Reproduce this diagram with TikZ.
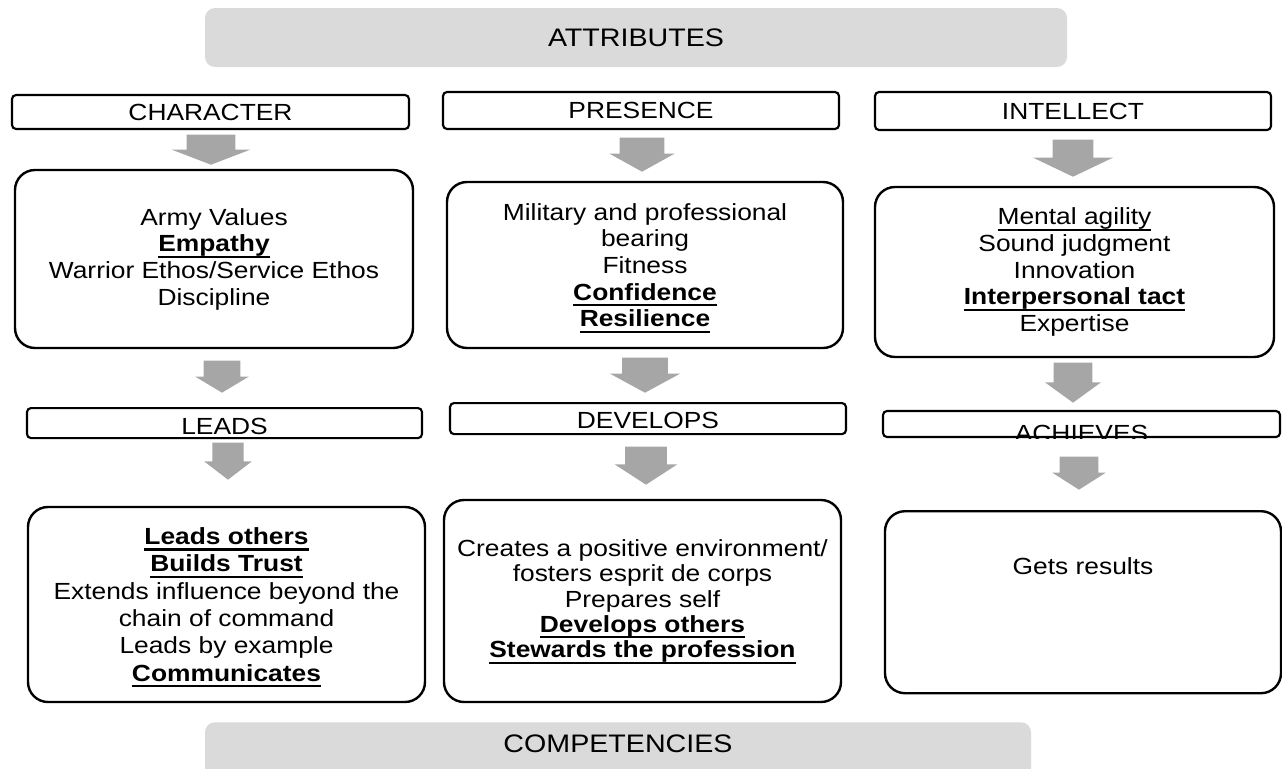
\documentclass[tikz,border=0pt]{standalone}
\usepackage{fontspec}
\setmainfont{Liberation Sans}[FakeStretch=1.13]
\usetikzlibrary{shapes.arrows}
\definecolor{titlegray}{RGB}{218,218,218}
\definecolor{arrowgray}{RGB}{166,166,166}
% underline sitting at a fixed depth
\newcommand{\undl}[2][1.6pt]{\setbox0=\hbox{#2}\leavevmode\rlap{\smash{\rule[-4.5pt]{\wd0}{#1}}}\box0}
\tikzset{
  titlebox/.style={fill=titlegray, rounded corners=7.5pt, inner sep=0pt, font=\fontsize{19}{22}\selectfont},
  headbox/.style={draw, line width=1.6pt, rounded corners=3pt, inner sep=0pt, font=\fontsize{17.5}{20}\selectfont},
  valbox/.style={draw, line width=1.8pt, rounded corners=15pt, inner sep=0pt, align=center, font=\fontsize{17.5}{20}\selectfont},
  blockarrow/.style={single arrow, fill=arrowgray, inner xsep=0pt, rotate=-90, anchor=tip},
}
\begin{document}
\begin{tikzpicture}[x=0.75pt, y=-0.75pt]
\clip (0,0) rectangle (1282,768);

\node[titlebox, minimum width=646.5pt, minimum height=44.25pt] (attr) at (636,37.5) {ATTRIBUTES};

% attributes
\node[headbox, minimum width=297.75pt, minimum height=25.5pt] (char) at (210.5,112) {CHARACTER};
\node[headbox, minimum width=297pt, minimum height=27.75pt] (pres) at (641,110.5) {PRESENCE};
\node[headbox, minimum width=297pt, minimum height=28.5pt] (intel) at (1073,111) {INTELLECT};

\node[valbox, minimum width=298.5pt, minimum height=133.5pt] (charval) at (214,259)
  {Army Values\\ \textbf{\undl{Empathy}}\\ Warrior Ethos/Service Ethos\\ Discipline};
\node[valbox, minimum width=297pt, minimum height=124.5pt] (presval) at (645,265)
  {Military and professional\\ bearing\\ Fitness\\ \textbf{\undl{Confidence}}\\ \textbf{\undl{Resilience}}};
\node[valbox, minimum width=299.25pt, minimum height=127.5pt] (intelval) at (1074.5,272)
  {\undl[1pt]{Mental agility}\\ Sound judgment\\ Innovation\\ \textbf{\undl{Interpersonal tact}}\\ Expertise};

% competencies
\node[headbox, anchor=north, minimum width=296.25pt, text height=19.5pt, text depth=3pt] (leads) at (224.5,407) {LEADS};
\node[headbox, anchor=north, minimum width=297pt, text height=18.75pt, text depth=4.5pt] (devel) at (648,402) {DEVELOPS};
\node[headbox, minimum width=297.75pt, minimum height=19.5pt] (ach) at (1081.5,424) {};
\begin{scope}
  \clip (ach.south west) rectangle (ach.north east);
  \node[anchor=base, inner sep=0pt, font=\fontsize{17.5}{20}\selectfont] (achtext) at (1081.5,441) {ACHIEVES};
\end{scope}

\node[valbox, minimum width=297.75pt, minimum height=146.25pt, font=\fontsize{17.5}{20.5}\selectfont] (leadsval) at (226.5,604.5)
  {\textbf{\undl{Leads others}}\\ \textbf{\undl{Builds Trust}}\\ Extends influence beyond the\\ chain of command\\ Leads by example\\ \textbf{\undl{Communicates}}};
\node[valbox, minimum width=297.75pt, minimum height=151.5pt, font=\fontsize{17.5}{19}\selectfont] (develval) at (642.5,601)
  {Creates a positive environment/\\ fosters esprit de corps\\ Prepares self\\ \textbf{\undl{Develops others}}\\ \textbf{\undl{Stewards the profession}}};
\node[valbox, anchor=north, minimum width=297pt, text height=47.25pt, text depth=89.25pt] (achval) at (1083,510) {Gets results};

\node[titlebox, anchor=north, minimum width=619.5pt, text height=22.5pt, text depth=19.5pt] (comp) at (618,722) {COMPETENCIES};

% block arrows
\node[blockarrow, inner ysep=18pt, minimum height=22.5pt, minimum width=58.5pt, single arrow head extend=11.25pt, single arrow tip angle=138] (ar1) at (211,165) {};
\node[blockarrow, inner ysep=16.5pt, minimum height=25.5pt, minimum width=48.75pt, single arrow head extend=7.9pt, single arrow tip angle=122] (ar2) at (642,172) {};
\node[blockarrow, inner ysep=15pt, minimum height=27.75pt, minimum width=60pt, single arrow head extend=15pt, single arrow tip angle=129] (ar3) at (1073,177) {};
\node[blockarrow, inner ysep=13.5pt, minimum height=24pt, minimum width=39.75pt, single arrow head extend=6.4pt, single arrow tip angle=118] (ar4) at (222,393) {};
\node[blockarrow, inner ysep=16.9pt, minimum height=26.25pt, minimum width=52.5pt, single arrow head extend=9.4pt, single arrow tip angle=123] (ar5) at (645,393) {};
\node[blockarrow, inner ysep=14.25pt, minimum height=30pt, minimum width=41.25pt, single arrow head extend=6.4pt, single arrow tip angle=108] (ar6) at (1073,403) {};
\node[blockarrow, inner ysep=11.6pt, minimum height=27.75pt, minimum width=35.25pt, single arrow head extend=6pt, single arrow tip angle=105] (ar7) at (228,480) {};
\node[blockarrow, inner ysep=15.4pt, minimum height=28.5pt, minimum width=46.5pt, single arrow head extend=7.9pt, single arrow tip angle=114] (ar8) at (646,485) {};
\node[blockarrow, inner ysep=14.25pt, minimum height=24.75pt, minimum width=39.75pt, single arrow head extend=5.6pt, single arrow tip angle=115] (ar9) at (1079,490) {};
\end{tikzpicture}
\end{document}
